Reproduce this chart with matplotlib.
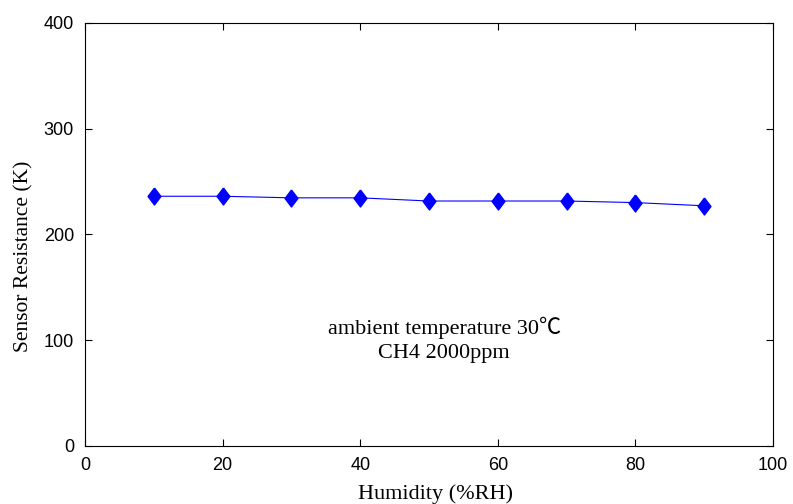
import numpy as np
import matplotlib
matplotlib.use("Agg")
import matplotlib.pyplot as plt

# data
humidity = [10, 20, 30, 40, 50, 60, 70, 80, 90]
resistance = [236, 236, 234.5, 234.5, 231.5, 231.5, 231.5, 230, 227]

x_ticks = [0, 20, 40, 60, 80, 100]
y_ticks = [0, 100, 200, 300, 400]

note_lines = ["ambient temperature 30\u2103", "CH4 2000ppm"]

serif = ["Liberation Serif", "DejaVu Serif"]
sans = ["Liberation Sans", "DejaVu Sans"]

# taller-than-wide diamond like MATLAB's
diamond = [(0, 1), (0.76, 0), (0, -1), (-0.76, 0), (0, 1)]

fig = plt.figure(figsize=(7.93, 5.04), dpi=100)
ax = fig.add_axes([85 / 793, 58 / 504, 688 / 793, 423.3 / 504])

ax.plot(humidity, resistance, color="blue", lw=0.8,
        marker=diamond, markersize=12.2,
        markerfacecolor="blue", markeredgecolor="blue")

ax.set_xlim(0, 100)
ax.set_ylim(0, 400)
ax.set_xticks(x_ticks)
ax.set_yticks(y_ticks)
ax.tick_params(direction="in", length=5, width=0.8, top=True, right=True,
               pad=8, labelsize=13)
for lab in ax.get_xticklabels() + ax.get_yticklabels():
    lab.set_family(sans)
for s in ax.spines.values():
    s.set_linewidth(0.8)

ax.set_xlabel("Humidity (%RH)", family=serif, fontsize=16, labelpad=7, x=0.509)
ax.set_ylabel("Sensor Resistance (K)", family=serif, fontsize=15.5,
              labelpad=7, y=0.449)

ax.text(52.2, 112, note_lines[0],
        family=["Liberation Serif", "Noto Sans CJK SC", "DejaVu Sans"],
        fontsize=16, ha="center", va="center")
ax.text(52.2, 87, note_lines[1], family=serif, fontsize=16,
        ha="center", va="center")

fig.savefig("out.png", dpi=100)
